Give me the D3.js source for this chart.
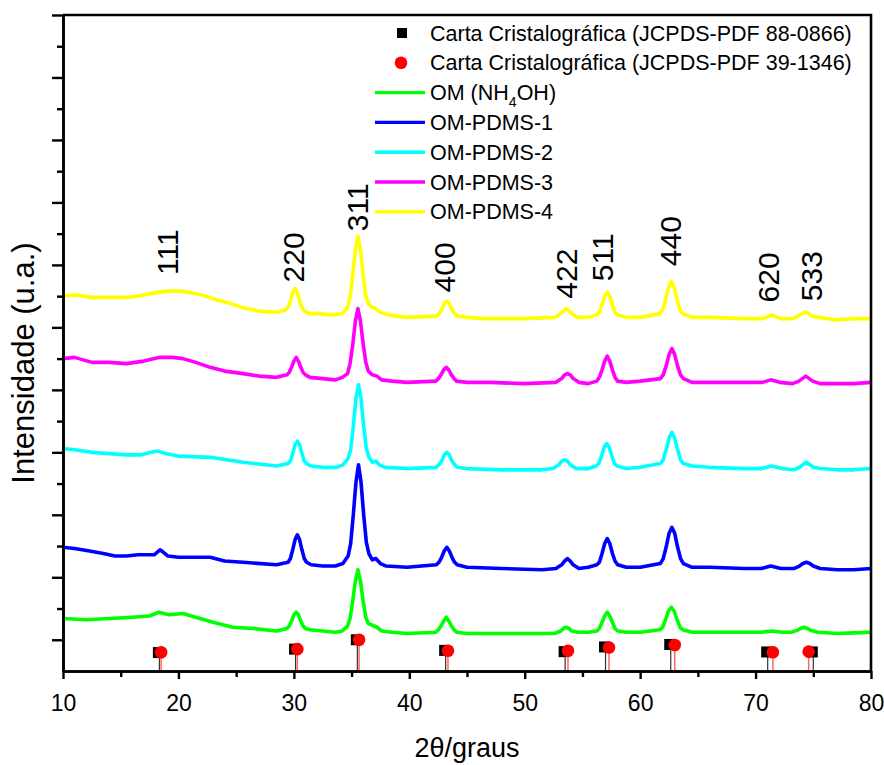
<!DOCTYPE html>
<html>
<head>
<meta charset="utf-8">
<script src="https://cdn.jsdelivr.net/npm/d3@7"></script>
<style>
  body { margin: 0; background: #fff; }
  text { font-family: "Liberation Sans", Arial, sans-serif; fill: #000; }
</style>
</head>
<body>
<svg id="chart" width="884" height="765"></svg>
<script>
// x ticks (2 theta, degrees)
var xTicks = [10, 20, 30, 40, 50, 60, 70, 80];
var xMinorTicks = [15, 25, 35, 45, 55, 65, 75];
// y ticks (arbitrary units, no labels)
var yTicks = [0, 50, 100, 150, 200, 250, 300, 350, 400, 450, 500];
var yMinorTicks = [25, 75, 125, 175, 225, 275, 325, 375, 425, 475];

// diffractograms, [2theta, intensity (u.a., stacked)]
var seriesOM = [
  [10,17],[12,16],[14,17],[16,18],[17.5,19],[18.3,22],[19.2,20],[20.4,21],[21.5,18],[23,14],[24.7,10],[26.5,9],[28.5,7],
  [29.4,9],[29.6,11],[29.8,15],[30.0,20],[30.2,22],[30.4,20],[30.6,15],[30.8,11],[31.0,9],[31.4,8],[32.5,7],[33.6,6],
  [34.2,7],[34.65,11],[34.87,17],[35.1,31],[35.33,47],[35.55,56],[35.77,47],[36.0,31],[36.23,18],[36.45,13],[36.7,12],[37.2,10],[37.6,7],[38.5,6],[39.8,5],
  [42.3,6],[42.52,8],[42.75,11],[42.98,15],[43.2,18],[43.42,15],[43.65,11],[43.88,8],[44.1,6],[45,5],[48,5],[51.5,5],
  [52.6,5],[53.1,7],[53.35,9],[53.6,10],[53.85,9],[54.1,7],[54.6,6],[55.5,6],
  [56.25,7],[56.47,9],[56.7,14],[56.93,19],[57.15,22],[57.37,19],[57.6,14],[57.82,9],[58.05,7],[58.8,6],[60,6],
  [61.7,8],[61.95,10],[62.2,16],[62.45,23],[62.7,26],[62.95,23],[63.2,16],[63.45,10],[63.7,8],[64.5,6],[66,6],[69,6],
  [70.5,6],[71.4,7],[72.3,6],
  [73.1,6],[73.6,7.5],[73.9,9],[74.2,10],[74.5,9],[74.8,7.5],[75.4,6],[77.1,5],[78.5,5.5],[80,6]
];
var seriesPDMS1 = [
  [10,74],[11,73],[12.3,71],[13.5,69],[14.5,67],[15.5,67],[16.5,68],[17.4,68],[17.9,68],[18.15,70],[18.4,72],[18.7,70],[19.1,67],[20,66],[22.75,66],[24,63],[25.6,62],[28.5,60],
  [29.5,62],[29.7,65],[29.9,72],[30.1,80],[30.3,84],[30.5,80],[30.7,72],[30.9,65],[31.1,62],[31.5,60],[32.5,59],[33.6,59],
  [34.25,61],[34.7,67],[34.92,77],[35.15,100],[35.38,126],[35.6,140],[35.82,126],[36.05,100],[36.28,78],[36.5,69],[36.8,64],[37.1,65],[37.5,61],[38,59],[39.8,58],
  [42.35,60],[42.57,62],[42.8,66],[43.03,71],[43.25,74],[43.47,71],[43.7,66],[43.93,62],[44.15,60],[45,58],[48,57],[51.5,56],
  [52.7,57],[53.2,60],[53.45,63],[53.7,65],[53.95,63],[54.2,60],[54.7,57],[55.5,58],
  [56.25,60],[56.47,62],[56.7,69],[56.93,77],[57.15,81],[57.37,77],[57.6,69],[57.82,63],[58.05,60],[58.8,58],[60,58],
  [61.75,61],[62.0,65],[62.25,74],[62.5,85],[62.75,90],[63.0,85],[63.25,74],[63.5,65],[63.75,61],[64.5,58],[66,58],[69,57],
  [70.5,57],[71.3,59],[72.2,57],
  [73.3,57],[73.8,59],[74.1,61],[74.4,62],[74.7,61],[75.0,59],[75.6,57],[77.1,56],[78.5,56],[80,57]
];
var seriesPDMS2 = [
  [10,153],[11,152],[12.5,150],[14,149],[15.5,148],[16.8,148],[17.6,150],[18.25,151],[18.9,149],[20,147],[22.75,146],[25.6,142],[28.5,139],
  [29.5,141],[29.7,143],[29.9,149],[30.1,156],[30.3,159],[30.5,156],[30.7,149],[30.9,143],[31.1,141],[31.5,139],[32.5,138],[33.7,138],
  [34.25,140],[34.7,145],[34.92,152],[35.15,171],[35.38,193],[35.6,204],[35.82,193],[36.05,171],[36.28,153],[36.5,146],[36.8,142],[37.1,143],[37.4,140],[37.9,138],[39.8,137],
  [42.35,138],[42.57,140],[42.8,143],[43.03,148],[43.25,150],[43.47,148],[43.7,143],[43.93,140],[44.15,138],[45,137],[48,136],[51.5,136],
  [52.45,137],[52.95,140],[53.2,143],[53.45,144],[53.7,143],[53.95,140],[54.45,137],[55.5,137],
  [56.2,139],[56.42,141],[56.65,147],[56.88,154],[57.1,157],[57.32,154],[57.55,147],[57.78,141],[58.0,139],[58.8,137],[60,138],
  [61.75,141],[62.0,144],[62.25,152],[62.5,161],[62.75,166],[63.0,161],[63.25,152],[63.5,144],[63.75,141],[64.5,139],[66,138],[69,137],
  [70.5,137],[71.4,139],[72.3,137],
  [73.3,136],[73.8,138],[74.1,140],[74.4,142],[74.7,140],[75.0,138],[75.6,137],[77.1,136],[78.5,136],[80,137]
];
var seriesPDMS3 = [
  [10,225],[11,226],[12.5,222],[14,222],[15.5,221],[17,223],[18.4,226],[19.5,226],[20.4,225],[21.5,222],[22.75,218],[24,215],[25.6,213],[27,211],[28.5,210],
  [29.4,212],[29.6,214],[29.8,218],[30.0,223],[30.2,226],[30.4,223],[30.6,218],[30.8,214],[31.0,212],[31.4,210],[32.5,209],[33.6,208],
  [34.2,210],[34.65,213],[34.87,221],[35.1,236],[35.33,255],[35.55,265],[35.77,255],[36.0,237],[36.23,222],[36.45,215],[36.8,212],[37.2,211],[37.6,208],[38.5,207],[39.8,206],
  [42.3,207],[42.52,209],[42.75,212],[42.98,216],[43.2,218],[43.42,216],[43.65,212],[43.88,209],[44.1,207],[45,206],[47,206],[50,205],
  [52.7,206],[53.2,209],[53.45,212],[53.7,213],[53.95,212],[54.2,209],[54.7,206],[55.5,205],
  [56.25,207],[56.47,210],[56.7,216],[56.93,223],[57.15,227],[57.37,223],[57.6,216],[57.82,210],[58.05,207],[58.8,206],[60,207],
  [61.75,209],[62.0,212],[62.25,219],[62.5,228],[62.75,233],[63.0,228],[63.25,219],[63.5,212],[63.75,209],[64.5,206],[66,206],[69.5,206],
  [70.6,206],[71.3,208],[72.1,206],
  [73.2,205],[73.75,207],[74.05,209],[74.35,211],[74.65,209],[74.95,207],[75.6,205],[77,205],[78.5,205],[80,206]
];
var seriesPDMS4 = [
  [10,275],[11,276],[12.5,274],[14,274],[15.5,274],[16.5,275],[17,276],[18.2,278],[19,279],[20.2,279],[21,278],[22,276],[23,273],[24.2,270],[25.5,266],[27,263],[28.5,262],
  [29.3,264],[29.5,266],[29.7,271],[29.9,278],[30.1,281],[30.3,278],[30.5,271],[30.7,266],[30.9,263],[31.3,261],[32,261],[33.3,260],
  [34.2,261],[34.65,266],[34.87,274],[35.1,292],[35.33,312],[35.55,323],[35.77,312],[36.0,292],[36.23,275],[36.45,269],[36.8,266],[37.1,265],[37.5,262],[38.2,260],[39.8,258],
  [42.35,259],[42.57,261],[42.8,264],[43.03,269],[43.25,271],[43.47,269],[43.7,264],[43.93,261],[44.15,259],[45,258],[46.5,257],[50,257],
  [52.6,258],[53.1,261],[53.35,263],[53.6,265],[53.85,263],[54.1,261],[54.6,258],[55.5,258],
  [56.25,260],[56.47,262],[56.7,268],[56.93,275],[57.15,278],[57.37,275],[57.6,268],[57.82,262],[58.05,260],[58.8,258],[60,258],
  [61.7,261],[61.95,264],[62.2,272],[62.45,282],[62.7,287],[62.95,282],[63.2,272],[63.45,264],[63.7,261],[64.5,258],[66,258],[69,257],
  [70.6,257],[71.4,260],[72.2,257],
  [73.2,257],[73.7,259],[74.0,261],[74.3,262],[74.6,261],[74.9,259],[75.5,258],[77,256],[78.5,257],[80,257]
];

var seriesNames = ['OM (NH4OH)', 'OM-PDMS-1', 'OM-PDMS-2', 'OM-PDMS-3', 'OM-PDMS-4'];
var seriesColors = ['#00ff00', '#0000ff', '#00ffff', '#ff00ff', '#ffff00'];

// reference cards: 2theta and relative intensity (%)
var cardNames = ['Carta Cristalográfica (JCPDS-PDF 88-0866)', 'Carta Cristalográfica (JCPDS-PDF 39-1346)'];
var card88Pos = [18.35, 30.15, 35.5, 43.15, 53.5, 57.0, 62.65, 71.05, 75.0];
var card88Int = [59, 70, 100, 66, 62, 77, 85, 61, 61];
var card39Pos = [18.5, 30.3, 35.65, 43.35, 53.75, 57.3, 63.0, 71.5, 74.6];
var card39Int = [60, 70, 100, 65, 65, 75, 83, 60, 62];

// Miller index labels: text, 2theta, intensity at start of the text
var hklLabels = ['111', '220', '311', '400', '422', '511', '440', '620', '533'];
var hklPos = [19.0, 29.9, 35.5, 43.05, 53.6, 56.75, 62.56, 71.06, 74.8];
var hklInt = [292, 286, 327, 278, 273, 287, 299, 270, 271];

var width = 884,
    height = 765,
    margin = { left: 63, top: 15, right: 13, bottom: 94 };
var chartWidth = width - margin.left - margin.right;
var chartHeight = height - margin.top - margin.bottom;

var svg = d3.select('#chart');
var g = svg.append('g')
    .attr('transform', 'translate(' + margin.left + ',' + margin.top + ')');

var xScale = d3.scaleLinear().domain([10, 80]).range([0, chartWidth]);
var yScale = d3.scaleLinear().domain([-25, 500]).range([chartHeight, 0]);
var refScale = d3.scaleLinear().domain([0, 100]).range([yScale(-25), yScale(0)]);

var line = d3.line()
    .x(function (d) { return xScale(d[0]); })
    .y(function (d) { return yScale(d[1]); });

// curves
var allSeries = [seriesOM, seriesPDMS1, seriesPDMS2, seriesPDMS3, seriesPDMS4];
g.append('g').selectAll('path')
    .data(allSeries)
    .enter().append('path')
    .attr('d', line)
    .attr('fill', 'none')
    .attr('stroke', function (d, i) { return seriesColors[i]; })
    .attr('stroke-width', 3.6)
    .attr('stroke-linejoin', 'round');

// reference cards
var ref88 = card88Pos.map(function (p, i) { return { x: p, v: card88Int[i] }; });
var ref39 = card39Pos.map(function (p, i) { return { x: p, v: card39Int[i] }; });

var refG = g.append('g');
refG.selectAll('line.s88').data(ref88).enter().append('line')
    .attr('x1', function (d) { return xScale(d.x); })
    .attr('x2', function (d) { return xScale(d.x); })
    .attr('y1', refScale(0))
    .attr('y2', function (d) { return refScale(d.v); })
    .attr('stroke', '#333').attr('stroke-width', 1.2);
refG.selectAll('rect').data(ref88).enter().append('rect')
    .attr('x', function (d) { return xScale(d.x) - 6.5; })
    .attr('y', function (d) { return refScale(d.v) - 5.5; })
    .attr('width', 11).attr('height', 11)
    .attr('fill', '#000');
refG.selectAll('line.s39').data(ref39).enter().append('line')
    .attr('x1', function (d) { return xScale(d.x); })
    .attr('x2', function (d) { return xScale(d.x); })
    .attr('y1', refScale(0))
    .attr('y2', function (d) { return refScale(d.v); })
    .attr('stroke', '#f66').attr('stroke-width', 1.5);
refG.selectAll('circle').data(ref39).enter().append('circle')
    .attr('cx', function (d) { return xScale(d.x); })
    .attr('cy', function (d) { return refScale(d.v); })
    .attr('r', 6.3)
    .attr('fill', '#ff0000');

// axes
var xAxis = d3.axisBottom(xScale).tickValues(xTicks).tickSize(8).tickSizeOuter(0).tickPadding(16);
var xAxisMinor = d3.axisBottom(xScale).tickValues(xMinorTicks).tickSize(6).tickSizeOuter(0).tickFormat('');
var yAxis = d3.axisLeft(yScale).tickValues(yTicks).tickSize(11).tickSizeOuter(0).tickFormat('');
var yAxisMinor = d3.axisLeft(yScale).tickValues(yMinorTicks).tickSize(6).tickSizeOuter(0).tickFormat('');

var axX = g.append('g').attr('class', 'axis x')
    .attr('transform', 'translate(0,' + chartHeight + ')').call(xAxis);
g.append('g').attr('transform', 'translate(0,' + chartHeight + ')').call(xAxisMinor);
g.append('g').call(yAxis);
g.append('g').call(yAxisMinor);

g.selectAll('.domain').attr('stroke', '#000').attr('stroke-width', 2.6);
g.selectAll('.tick line').attr('stroke', '#000').attr('stroke-width', 2.4);
axX.selectAll('text')
    .style('font-size', '23px')
    .style('font-family', '"Liberation Sans", Arial, sans-serif');

// frame top and right
g.append('path')
    .attr('d', 'M0,0H' + chartWidth + 'V' + chartHeight)
    .attr('fill', 'none')
    .attr('stroke', '#000')
    .attr('stroke-width', 2.6);

// hkl labels
g.append('g').selectAll('text')
    .data(hklLabels)
    .enter().append('text')
    .attr('transform', function (d, i) {
        return 'translate(' + xScale(hklPos[i]) + ',' + yScale(hklInt[i]) + ') rotate(-90)';
    })
    .attr('dy', '0.36em')
    .style('font-size', '30px')
    .text(function (d) { return d; });

// axis titles
svg.append('text')
    .attr('transform', 'translate(' + (margin.left + chartWidth / 2) + ',757)')
    .attr('text-anchor', 'middle')
    .style('font-size', '27px')
    .text('2θ/graus');

svg.append('text')
    .attr('transform', 'translate(34,' + (margin.top + chartHeight / 2 + 20) + ') rotate(-90)')
    .attr('text-anchor', 'middle')
    .style('font-size', '31px')
    .text('Intensidade (u.a.)');

// legend
var legend = svg.append('g').attr('transform', 'translate(375,33)');
var rowH = 29.8;
var legendRows = cardNames.map(function (n, i) { return { name: n, kind: i === 0 ? 'square' : 'circle' }; })
    .concat(seriesNames.map(function (n, i) { return { name: n, kind: 'line', color: seriesColors[i] }; }));

var rows = legend.selectAll('g').data(legendRows).enter().append('g')
    .attr('transform', function (d, i) { return 'translate(0,' + (i * rowH) + ')'; });

rows.filter(function (d) { return d.kind === 'square'; }).append('rect')
    .attr('x', 22).attr('y', -5).attr('width', 10).attr('height', 10).attr('fill', '#000');
rows.filter(function (d) { return d.kind === 'circle'; }).append('circle')
    .attr('cx', 26).attr('cy', 0).attr('r', 6.3).attr('fill', '#ff0000');
rows.filter(function (d) { return d.kind === 'line'; }).append('line')
    .attr('x1', 0).attr('x2', 50).attr('y1', 0).attr('y2', 0)
    .attr('stroke', function (d) { return d.color; })
    .attr('stroke-width', 3.4);

rows.append('text')
    .attr('x', 55).attr('y', 7.5)
    .style('font-size', '21.5px')
    .each(function (d) {
        var t = d3.select(this);
        var m = d.name.match(/^(.*NH)(\d)(OH.*)$/);
        if (m) {
            t.append('tspan').text(m[1]);
            t.append('tspan').attr('dy', 7).style('font-size', '14px').text(m[2]);
            t.append('tspan').attr('dy', -7).text(m[3]);
        } else {
            t.text(d.name);
        }
    });
</script>
</body>
</html>
